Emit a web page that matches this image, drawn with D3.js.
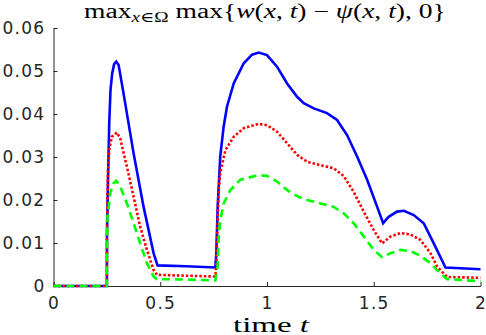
<!DOCTYPE html>
<html>
<head>
<meta charset="utf-8">
<script src="https://cdn.jsdelivr.net/npm/d3@7"></script>
<style>
  body { margin: 0; background: #fff; }
  .axis path, .axis line { stroke: #262626; stroke-width: 1; }
  .axis text { font-family: "DejaVu Sans", sans-serif; font-size: 17px; fill: #262626; letter-spacing: 1.3px; }
  .serif { font-family: "Liberation Serif", "DejaVu Serif", serif; fill: #000; }
</style>
</head>
<body>
<svg id="chart" width="486" height="335"></svg>
<script>
// Tick labels
const xTicks = [0, 0.5, 1, 1.5, 2];
const xTickLabels = ["0", "0.5", "1", "1.5", "2"];
const yTicks = [0, 0.01, 0.02, 0.03, 0.04, 0.05, 0.06];
const yTickLabels = ["0", "0.01", "0.02", "0.03", "0.04", "0.05", "0.06"];

// Series: [time, value]
const blueData = [
  [0, 0], [0.25, 0], [0.2505, 0.012], [0.256, 0.0262], [0.261, 0.0378], [0.267, 0.0456],
  [0.275, 0.0495], [0.284, 0.0516], [0.294, 0.0522], [0.305, 0.0514], [0.328, 0.0448],
  [0.375, 0.0309], [0.422, 0.0184], [0.469, 0.0076], [0.4875, 0.0048], [0.62, 0.0046],
  [0.758, 0.0043], [0.7625, 0.0076], [0.769, 0.0184], [0.781, 0.0301], [0.797, 0.0371],
  [0.8125, 0.0417], [0.844, 0.0471], [0.891, 0.0518], [0.93, 0.0538], [0.961, 0.0543],
  [1.0, 0.0537], [1.047, 0.0510], [1.094, 0.0471], [1.141, 0.0440], [1.172, 0.0425],
  [1.219, 0.0413], [1.281, 0.0402], [1.328, 0.0386], [1.375, 0.0351], [1.422, 0.0301],
  [1.469, 0.0247], [1.516, 0.0184], [1.544, 0.0146], [1.570, 0.0161], [1.609, 0.0173],
  [1.641, 0.0175], [1.6875, 0.0165], [1.734, 0.0146], [1.781, 0.0099], [1.836, 0.0043],
  [2.0, 0.0039]
];
const redData = [
  [0, 0], [0.25, 0], [0.2505, 0.012], [0.2547, 0.0262], [0.261, 0.0316], [0.273, 0.0347],
  [0.297, 0.0357], [0.3125, 0.0343], [0.344, 0.0277], [0.375, 0.0208], [0.406, 0.0138],
  [0.4375, 0.0084], [0.469, 0.0037], [0.484, 0.0026], [0.62, 0.0024], [0.758, 0.0022],
  [0.7625, 0.005], [0.766, 0.0107], [0.773, 0.0223], [0.781, 0.0262], [0.805, 0.0316],
  [0.844, 0.0347], [0.891, 0.0367], [0.961, 0.0377], [1.0, 0.0374], [1.047, 0.0359],
  [1.094, 0.0332], [1.141, 0.0305], [1.1875, 0.0289], [1.25, 0.0281], [1.3125, 0.0274],
  [1.359, 0.0256], [1.406, 0.0219], [1.453, 0.0173], [1.5, 0.0130], [1.539, 0.0099],
  [1.578, 0.0115], [1.625, 0.0123], [1.672, 0.0120], [1.719, 0.0107], [1.766, 0.0076],
  [1.797, 0.0045], [1.844, 0.0021], [2.0, 0.0019]
];
const greenData = [
  [0, 0], [0.25, 0], [0.2505, 0.008], [0.253, 0.0161], [0.266, 0.0216], [0.281, 0.0239],
  [0.294, 0.0245], [0.3125, 0.0231], [0.344, 0.0192], [0.375, 0.0146], [0.406, 0.0099],
  [0.4375, 0.0053], [0.469, 0.0022], [0.484, 0.0016], [0.62, 0.0015], [0.758, 0.0013],
  [0.769, 0.0045], [0.773, 0.0107], [0.781, 0.0153], [0.797, 0.0192], [0.828, 0.0223],
  [0.875, 0.0247], [0.961, 0.0258], [1.0, 0.0256], [1.047, 0.0243], [1.094, 0.0223],
  [1.141, 0.0209], [1.1875, 0.0200], [1.25, 0.0192], [1.3125, 0.0184], [1.359, 0.0169],
  [1.406, 0.0146], [1.453, 0.0115], [1.5, 0.0084], [1.539, 0.0067], [1.578, 0.0076],
  [1.625, 0.0084], [1.672, 0.0081], [1.719, 0.0070], [1.766, 0.0053], [1.8125, 0.0029],
  [1.844, 0.0016], [2.0, 0.0011]
];

// Layout
const margin = {left: 53.5, right: 5.5, top: 28, bottom: 49};
const width = 486, height = 335;

const svg = d3.select("#chart");
const x = d3.scaleLinear().domain([0, 2]).range([margin.left, width - margin.right]);
const y = d3.scaleLinear().domain([0, 0.06]).range([height - margin.bottom, margin.top]);

// Axes (MATLAB style, ticks inward, no box)
svg.append("g")
  .attr("class", "axis")
  .attr("transform", `translate(0,${y(0)})`)
  .call(d3.axisBottom(x).tickValues(xTicks)
    .tickFormat((d, i) => xTickLabels[i])
    .tickSizeInner(-4).tickSizeOuter(0).tickPadding(11));

svg.append("g")
  .attr("class", "axis")
  .attr("transform", `translate(${x(0)},0)`)
  .call(d3.axisLeft(y).tickValues(yTicks)
    .tickFormat((d, i) => yTickLabels[i])
    .tickSizeInner(-4).tickSizeOuter(0).tickPadding(8));

// Curves (blue first, green on top)
const line = d3.line().x(d => x(d[0])).y(d => y(d[1]));

svg.append("path").datum(blueData)
  .attr("d", line).attr("fill", "none")
  .attr("stroke", "#0000ff").attr("stroke-width", 2.6);

svg.append("path").datum(redData)
  .attr("d", line).attr("fill", "none")
  .attr("stroke", "#ff0000").attr("stroke-width", 2.6)
  .attr("stroke-dasharray", "2.5,2");

svg.append("path").datum(greenData)
  .attr("d", line).attr("fill", "none")
  .attr("stroke", "#00ff00").attr("stroke-width", 2.6)
  .attr("stroke-dasharray", "8,5");

// stretch a text node horizontally so it spans [x0, x1]
function fitText(sel, x0, x1, baseline) {
  const w = sel.node().getComputedTextLength();
  sel.attr("transform", `translate(${x0},${baseline}) scale(${(x1 - x0) / w},1)`);
}

// Title
const title = svg.append("text")
  .attr("class", "serif")
  .style("font-size", "20px");
title.append("tspan").text("max");
title.append("tspan").attr("dy", 4).style("font-size", "14px").style("font-style", "italic").text("x");
title.append("tspan").style("font-size", "14px").text("∈Ω");
title.append("tspan").attr("dy", -4).text(" max{");
title.append("tspan").style("font-style", "italic").text("w");
title.append("tspan").text("(");
title.append("tspan").style("font-style", "italic").text("x");
title.append("tspan").text(", ");
title.append("tspan").style("font-style", "italic").text("t");
title.append("tspan").text(") − ");
title.append("tspan").style("font-style", "italic").text("ψ");
title.append("tspan").text("(");
title.append("tspan").style("font-style", "italic").text("x");
title.append("tspan").text(", ");
title.append("tspan").style("font-style", "italic").text("t");
title.append("tspan").text("), 0}");
fitText(title, 84, 446, 18);

// X label
const xlab = svg.append("text")
  .attr("class", "serif")
  .style("font-size", "21px");
xlab.append("tspan").text("time ");
xlab.append("tspan").style("font-style", "italic").text("t");
fitText(xlab, 233, 309, 331.5);
</script>
</body>
</html>
